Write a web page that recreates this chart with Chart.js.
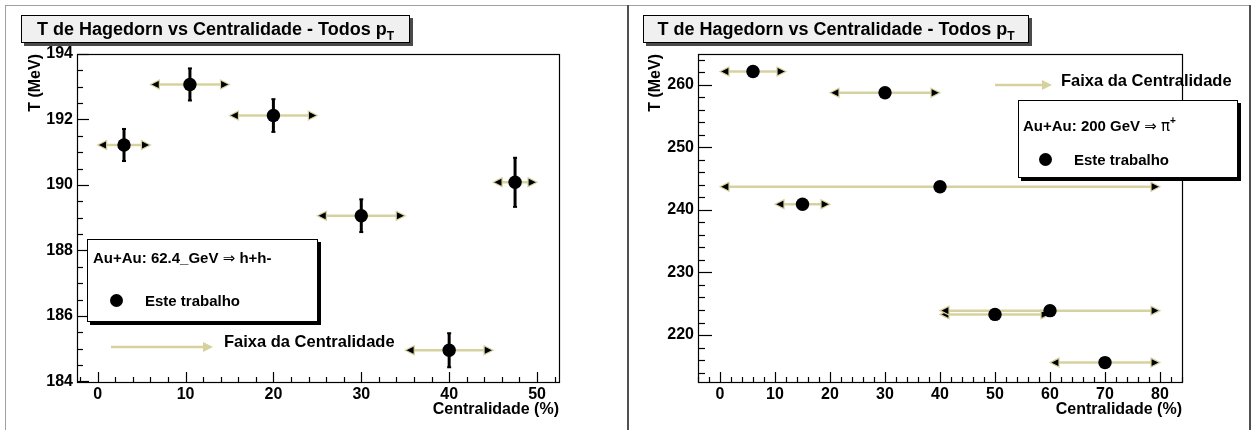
<!DOCTYPE html>
<html>
<head>
<meta charset="utf-8">
<title>T de Hagedorn vs Centralidade</title>
<script src="https://cdn.jsdelivr.net/npm/chart.js@4.4.1/dist/chart.umd.min.js"></script>
<style>
  html, body { margin: 0; padding: 0; background: #fff; }
  #stage {
    position: relative; width: 1255px; height: 430px; overflow: hidden;
    font-family: "Liberation Sans", Arial, Helvetica, sans-serif; font-weight: bold; color: #000;
  }
  #stage canvas { position: absolute; top: 0; }
  .rule { position: absolute; }
  .titlebox {
    position: absolute; box-sizing: border-box; background: #f0f0f0; border: 1px solid #000;
    box-shadow: 3px 3px 0 #4a4a4a; font-size: 18px; line-height: 26px; text-align: center; white-space: nowrap;
  }
  .titlebox .sub { font-size: 12px; position: relative; top: 5px; }
  .legend {
    position: absolute; box-sizing: border-box; background: #fff; border: 1px solid #000;
    box-shadow: 3px 3px 0 #000; white-space: nowrap; font-size: 15px;
  }
  .legend .row { position: absolute; height: 20px; line-height: 20px; }
  .legend .dot { position: absolute; width: 13.4px; height: 13.4px; border-radius: 50%; background: #000; }
  .sym { font-family: "DejaVu Sans", sans-serif; font-weight: normal; }
  .note { position: absolute; height: 20px; line-height: 20px; font-size: 16.5px; white-space: nowrap; }
  svg.arrow { position: absolute; overflow: visible; }
</style>
</head>
<body>
<div id="stage">
  <canvas id="padLeft" width="627" height="430" style="left:0"></canvas>
  <canvas id="padRight" width="628" height="430" style="left:627px"></canvas>

  <!-- pad borders -->
  <div class="rule" style="left:5px;top:5px;width:1246px;height:1px;background:#a0a0a0"></div>
  <div class="rule" style="left:5px;top:5px;width:1px;height:425px;background:#a0a0a0"></div>
  <div class="rule" style="left:627px;top:5px;width:2px;height:425px;background:#505050"></div>
  <div class="rule" style="left:1249px;top:5px;width:2px;height:425px;background:#505050"></div>

  <!-- pad titles -->
  <div class="titlebox" style="left:21px;top:15px;width:389px;height:28px">T de Hagedorn vs Centralidade - Todos p<span class="sub">T</span></div>
  <div class="titlebox" style="left:643px;top:15px;width:386px;height:28px">T de Hagedorn vs Centralidade - Todos p<span class="sub">T</span></div>

  <!-- left pad legend -->
  <div class="legend" style="left:87px;top:239px;width:231px;height:83px">
    <div class="row" style="left:5px;top:8px">Au+Au: 62.4_GeV <span class="sym">⇒</span> h+h-</div>
    <div class="dot" style="left:22px;top:54px"></div>
    <div class="row" style="left:57px;top:51px">Este trabalho</div>
  </div>

  <!-- right pad legend -->
  <div class="legend" style="left:1018px;top:100px;width:220px;height:78px">
    <div class="row" style="left:4px;top:11px">Au+Au: 200 GeV <span class="sym">⇒</span> <span class="sym">π</span><sup style="font-size:10px;position:relative;top:-1px">+</sup></div>
    <div class="dot" style="left:20px;top:52px"></div>
    <div class="row" style="left:55px;top:49px">Este trabalho</div>
  </div>

  <!-- centrality-range key -->
  <svg class="arrow" style="left:0;top:0" width="1255" height="430">
    <line x1="111" y1="347" x2="204" y2="347" stroke="#d6d29f" stroke-width="2.5"/>
    <polygon points="213,347 203,342 203,352" fill="#d6d29f"/>
    <line x1="995" y1="85" x2="1043" y2="85" stroke="#d6d29f" stroke-width="2.5"/>
    <polygon points="1052,85 1042,80 1042,90" fill="#d6d29f"/>
  </svg>
  <div class="note" style="left:224px;top:331px">Faixa da Centralidade</div>
  <div class="note" style="left:1061px;top:70px">Faixa da Centralidade</div>
</div>

<script>
// ---- Au+Au 62.4 GeV, h+h- : Hagedorn temperature per centrality bin ----
const leftCentrality  = [3, 10.5, 20, 30, 40, 47.5];
const leftBinLow      = [0, 6, 15, 25, 35, 45];
const leftBinHigh     = [6, 15, 25, 35, 45, 50];
const leftTemperature = [191.22, 193.07, 192.12, 189.06, 184.95, 190.08];
const leftTempError   = [0.49, 0.49, 0.5, 0.5, 0.52, 0.75];
const leftXTickLabels = [0, 10, 20, 30, 40, 50];
const leftYTickLabels = [184, 186, 188, 190, 192, 194];

// ---- Au+Au 200 GeV, pi+ : Hagedorn temperature per centrality bin ----
const rightCentrality  = [6, 30, 40, 15, 50, 60, 70];
const rightBinLow      = [0, 20, 0, 10, 40, 40, 60];
const rightBinHigh     = [12, 40, 80, 20, 60, 80, 80];
const rightTemperature = [262.1, 258.7, 243.7, 240.9, 223.3, 223.9, 215.6];
const rightXTickLabels = [0, 10, 20, 30, 40, 50, 60, 70, 80];
const rightYTickLabels = [220, 230, 240, 250, 260];

const RANGE_COLOR = '#d6d29f';
const FONT = 'Liberation Sans, Arial, Helvetica, sans-serif';

function arrowHead(ctx, xTip, y, dir) {
  const len = 9, half = 4.5;
  ctx.beginPath();
  ctx.moveTo(xTip, y);
  ctx.lineTo(xTip - dir * len, y - half);
  ctx.lineTo(xTip - dir * len, y + half);
  ctx.closePath();
  ctx.fillStyle = '#000';
  ctx.fill();
  ctx.lineWidth = 1.2;
  ctx.strokeStyle = RANGE_COLOR;
  ctx.stroke();
}

// Frame, inward ticks, centrality-range arrows and vertical error bars
const rootPad = {
  id: 'rootPad',
  beforeDatasetsDraw(chart, args, o) {
    const { ctx, chartArea: a, scales: { x, y } } = chart;
    ctx.save();

    // frame
    ctx.strokeStyle = '#000';
    ctx.lineWidth = 1.2;
    ctx.strokeRect(Math.round(a.left) + 0.5, Math.round(a.top) + 0.5,
                   Math.round(a.right - a.left), Math.round(a.bottom - a.top));

    // y ticks (inside frame, left side)
    ctx.lineWidth = 1.2;
    const yStart = Math.ceil((y.min - 1e-9) / o.yMinor) * o.yMinor;
    for (let v = yStart; v <= y.max + 1e-9; v += o.yMinor) {
      const major = Math.abs(v / o.yMajor - Math.round(v / o.yMajor)) < 1e-6;
      const py = Math.round(y.getPixelForValue(v)) + 0.5;
      ctx.beginPath();
      ctx.moveTo(a.left, py);
      ctx.lineTo(a.left + (major ? o.yMajorLen : o.yMinorLen), py);
      ctx.stroke();
    }
    // x ticks (inside frame, bottom side)
    const xStart = Math.ceil((x.min - 1e-9) / o.xMinor) * o.xMinor;
    for (let v = xStart; v <= x.max + 1e-9; v += o.xMinor) {
      const major = Math.abs(v / o.xMajor - Math.round(v / o.xMajor)) < 1e-6;
      const px = Math.round(x.getPixelForValue(v)) + 0.5;
      ctx.beginPath();
      ctx.moveTo(px, a.bottom);
      ctx.lineTo(px, a.bottom - (major ? o.xMajorLen : o.xMinorLen));
      ctx.stroke();
    }

    // centrality ranges
    const pts = chart.data.datasets[0].data;
    pts.forEach((p, i) => {
      const py = y.getPixelForValue(p.y);
      const x0 = x.getPixelForValue(o.low[i]);
      const x1 = x.getPixelForValue(o.high[i]);
      ctx.strokeStyle = RANGE_COLOR;
      ctx.lineWidth = 2.5;
      ctx.beginPath();
      ctx.moveTo(x0 + 4, py);
      ctx.lineTo(x1 - 4, py);
      ctx.stroke();
      arrowHead(ctx, x0, py, -1);
      arrowHead(ctx, x1, py, 1);
    });

    // temperature errors
    if (o.err) {
      pts.forEach((p, i) => {
        const px = x.getPixelForValue(p.x);
        const yTop = y.getPixelForValue(p.y + o.err[i]);
        const yBot = y.getPixelForValue(p.y - o.err[i]);
        ctx.strokeStyle = '#000';
        ctx.lineWidth = 3;
        ctx.beginPath();
        ctx.moveTo(px, yTop);
        ctx.lineTo(px, yBot);
        ctx.stroke();
        ctx.fillStyle = '#000';
        ctx.fillRect(px - 2, yTop - 1, 4, 2);
        ctx.fillRect(px - 2, yBot - 1, 4, 2);
      });
    }
    ctx.restore();
  }
};

function makePad(canvasId, cfg) {
  const tickFont = { family: FONT, size: 16, weight: 'bold' };
  return new Chart(document.getElementById(canvasId), {
    type: 'scatter',
    data: {
      datasets: [{
        data: cfg.cent.map((c, i) => ({ x: c, y: cfg.temp[i] })),
        pointRadius: 6.7,
        pointBackgroundColor: '#000',
        pointBorderWidth: 0,
        showLine: false
      }]
    },
    options: {
      responsive: false,
      animation: false,
      events: [],
      layout: { padding: { left: 0, top: cfg.top, right: cfg.padRight, bottom: 0 } },
      plugins: {
        legend: { display: false },
        tooltip: { enabled: false },
        rootPad: {
          low: cfg.low, high: cfg.high, err: cfg.err,
          xMajor: 10, xMinor: 2, yMajor: cfg.yMajor, yMinor: cfg.yMinor,
          xMajorLen: cfg.xMajorLen, xMinorLen: cfg.xMinorLen,
          yMajorLen: cfg.yMajorLen, yMinorLen: cfg.yMinorLen
        }
      },
      scales: {
        x: {
          type: 'linear', min: cfg.xMin, max: cfg.xMax,
          grid: { display: false, drawTicks: false },
          border: { display: false },
          afterBuildTicks: s => { s.ticks = cfg.xTicks.map(v => ({ value: v })); },
          afterFit: s => { s.height = 430 - cfg.bottom; },
          ticks: { autoSkip: false, maxRotation: 0, padding: 3, color: '#000', font: tickFont },
          title: {
            display: true, text: 'Centralidade (%)', align: 'end', color: '#000',
            font: tickFont, padding: { top: 0, bottom: 11 }
          }
        },
        y: {
          type: 'linear', min: cfg.yMin, max: cfg.yMax,
          grid: { display: false, drawTicks: false },
          border: { display: false },
          afterBuildTicks: s => { s.ticks = cfg.yTicks.map(v => ({ value: v })); },
          afterFit: s => { s.width = cfg.left; },
          ticks: { autoSkip: false, padding: 4, color: '#000', font: tickFont },
          title: {
            display: true, text: 'T (MeV)', align: 'end', color: '#000',
            font: tickFont, padding: { top: cfg.yTitlePad, bottom: 0 }
          }
        }
      }
    },
    plugins: [rootPad]
  });
}

makePad('padLeft', {
  cent: leftCentrality, temp: leftTemperature, low: leftBinLow, high: leftBinHigh, err: leftTempError,
  xTicks: leftXTickLabels, yTicks: leftYTickLabels,
  xMin: -2.35, xMax: 52.5, yMin: 183.98, yMax: 194.0,
  yMajor: 2, yMinor: 0.5,
  left: 77, top: 54, bottom: 382, padRight: 627 - 559,
  yTitlePad: 26,
  xMajorLen: 10, xMinorLen: 5, yMajorLen: 12, yMinorLen: 6
});

makePad('padRight', {
  cent: rightCentrality, temp: rightTemperature, low: rightBinLow, high: rightBinHigh, err: null,
  xTicks: rightXTickLabels, yTicks: rightYTickLabels,
  xMin: -4, xMax: 84, yMin: 212.5, yMax: 264.9,
  yMajor: 10, yMinor: 2,
  left: 71, top: 54, bottom: 382, padRight: 628 - 555,
  yTitlePad: 19,
  xMajorLen: 10, xMinorLen: 5, yMajorLen: 14, yMinorLen: 7
});
</script>
</body>
</html>
